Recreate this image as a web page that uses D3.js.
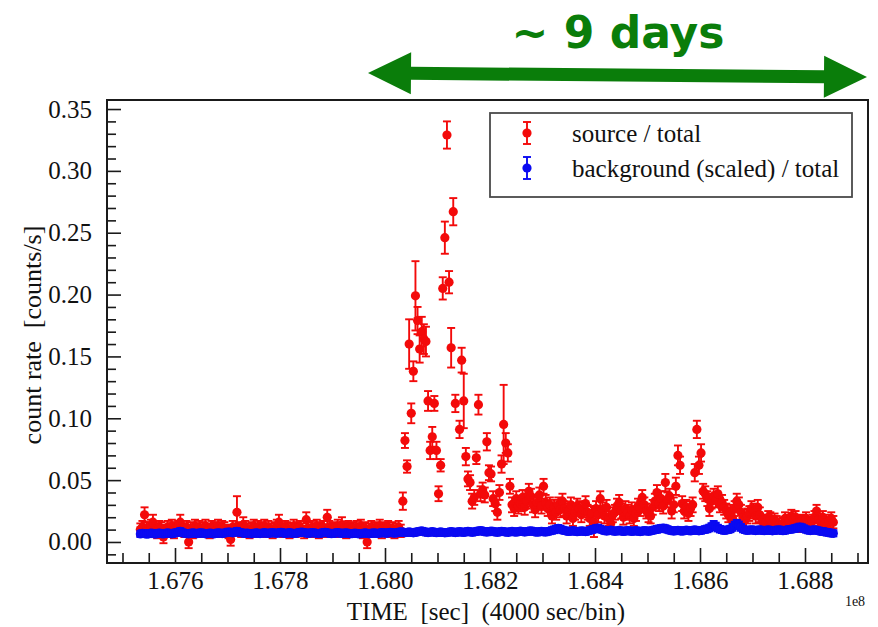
<!DOCTYPE html>
<html>
<head>
<meta charset="utf-8">
<script src="https://cdn.jsdelivr.net/npm/d3@7"></script>
<style>
  body { margin: 0; background: #fff; }
  svg { display: block; }
</style>
</head>
<body>
<svg id="chart" width="878" height="627"></svg>
<script>
// Light curve binned at 4000 s; bin i is centred at binStart + i * binSec (seconds)
const binStart = 1.67534e8;
const binSec = 4000;

// source / total rate [counts/s]; null = no data in that bin
const srcRate = [
  0.010,0.012,0.022,0.011,0.009,0.013,0.016,0.010,0.008,0.012,
  0.011,0.004,0.009,0.012,0.010,0.013,0.008,0.011,0.012,0.016,
  0.010,0.009,0.012,0.000,0.011,0.008,0.013,0.010,0.012,0.009,
  0.011,0.013,0.010,0.008,0.012,0.011,0.009,0.013,0.010,0.012,
  0.011,0.009,0.008,0.002,0.012,0.010,0.024,0.011,0.009,0.014,
  0.012,0.010,0.008,0.011,0.013,0.009,0.012,0.010,0.011,0.013,
  0.009,0.012,0.010,0.008,0.011,0.013,0.016,0.010,0.009,0.012,
  0.011,0.008,0.010,0.013,0.009,0.011,0.012,0.010,0.008,0.018,
  0.011,0.009,0.012,0.010,0.013,0.008,0.011,0.012,0.009,0.020,
  0.012,0.010,0.011,0.009,0.013,0.010,0.014,0.011,0.008,0.012,
  0.010,0.011,0.009,0.012,0.010,0.013,0.008,0.011,0.000,0.010,
  0.012,0.009,0.011,0.010,0.013,0.008,0.011,0.010,0.012,0.009,
  0.011,0.008,0.010,0.012,0.009,0.033,0.082,0.061,0.160,0.104,
  0.138,0.199,0.179,0.156,0.170,0.164,0.162,0.114,0.074,0.085,
  0.112,0.074,0.039,0.062,0.205,0.246,0.329,0.210,0.157,0.267,
  0.112,null,0.091,0.147,0.114,0.069,0.051,0.048,0.033,0.036,
  0.068,0.111,0.039,0.042,0.038,0.081,0.056,0.055,0.035,0.031,
  0.024,0.040,0.063,0.095,0.080,0.072,0.045,0.030,0.027,0.035,
  0.029,0.031,0.036,0.028,0.033,0.041,0.037,0.030,0.026,0.032,
  0.038,0.029,0.045,0.032,0.027,0.030,0.021,0.028,0.024,0.030,
  0.026,0.033,0.027,0.021,0.025,0.030,0.019,0.024,0.029,0.027,
  0.022,0.026,0.031,0.024,0.019,0.023,0.016,0.027,0.022,0.035,
  0.026,0.021,0.028,0.019,0.015,0.022,0.024,0.029,0.032,0.025,
  0.020,0.027,0.024,0.021,0.026,0.019,0.023,0.029,0.027,0.036,
  0.030,0.025,0.022,0.021,0.028,0.033,0.040,0.031,0.035,0.029,
  0.048,0.034,0.037,0.025,0.030,0.045,0.070,0.062,0.031,0.025,
  0.028,0.023,0.027,0.030,0.056,0.091,0.062,0.072,0.041,0.039,
  0.035,0.027,0.033,0.037,0.034,0.039,0.030,0.032,0.028,0.025,
  0.022,0.024,0.019,0.027,0.033,0.030,0.024,0.020,0.018,0.021,
  0.023,0.027,0.025,0.021,0.028,0.022,0.017,0.013,0.016,0.020,
  0.019,0.015,0.018,0.016,0.014,0.012,0.015,0.019,0.014,0.017,
  0.021,0.018,0.020,0.016,0.013,0.017,0.016,0.019,0.015,0.014,
  0.017,0.020,0.025,0.018,0.016,0.020,0.015,0.013,0.017,0.019,
  0.016
];

// 1-sigma error of the source rate [1e-3 counts/s]
const srcErr = [
  5,5,6,5,5,5,6,5,5,5, 5,5,5,5,5,5,5,5,5,6, 5,5,5,5,5,5,5,5,5,5,
  5,5,5,5,5,5,5,5,5,5, 5,5,5,5,5,5,13,5,5,6, 5,5,5,5,5,5,5,5,5,5,
  5,5,5,5,5,5,6,5,5,5, 5,5,5,5,5,5,5,5,5,6, 5,5,5,5,5,5,5,5,5,6,
  5,5,5,5,5,5,6,5,5,5, 5,5,5,5,5,5,5,5,5,5, 5,5,5,5,5,5,5,5,5,5,
  5,5,5,5,5,7,6,5,20,8, 8,28,11,11,12,12,12,8,7,8, 6,7,6,5,9,13,11,9,16,11,
  7,0,7,10,22,7,6,6,6,6, 5,8,6,6,6,7,6,6,6,6, 6,6,7,32,8,7,6,6,6,6,
  6,6,6,6,6,6,6,6,6,6, 6,6,6,6,6,6,6,6,6,6, 6,6,6,6,6,6,6,6,6,6,
  6,6,6,6,6,6,12,6,6,6, 6,6,6,6,6,6,6,6,6,6, 6,6,6,6,6,6,6,6,6,6,
  6,6,6,6,6,6,6,6,6,6, 7,6,6,6,6,7,8,7,6,6, 6,6,6,6,7,7,7,7,6,6,
  6,6,6,6,6,6,6,6,6,6, 6,6,6,6,6,6,6,6,6,6, 6,6,6,6,6,6,5,5,5,5,
  5,5,5,5,5,5,5,5,5,5, 5,5,5,5,5,5,5,5,5,5, 5,5,5,5,5,5,5,5,5,5,
  5
];

// background (scaled) / total rate [1e-4 counts/s]
const bkgRate = [
  65,70,68,63,66,71,69,64,67,72, 68,65,70,73,69,66,71,75,78,85,
  76,71,68,66,70,73,69,67,71,74, 70,66,68,72,69,65,70,74,71,68,
  72,76,80,78,74,79,86,80,75,71, 69,72,68,66,70,73,71,68,72,75,
  71,69,73,76,72,70,74,78,73,69, 72,75,71,68,70,74,77,80,76,72,
  69,73,76,72,70,68,71,75,78,74, 70,67,69,73,76,72,69,71,74,70,
  66,68,71,69,65,67,70,73,69,66, 70,74,71,68,72,76,73,70,74,78,
  75,71,74,78,82,79,75,78,81,77, 74,78,82,86,90,84,79,76,80,83,
  79,75,77,81,78,74,76,80,84,80, 76,79,83,80,77,81,85,82,78,81,
  85,88,92,87,83,80,84,88,85,81, 78,82,86,83,80,78,82,85,81,79,
  83,87,84,80,83,87,90,86,82,79, 83,86,82,80,84,88,93,98,105,110,
  104,97,92,88,85,88,91,87,83,86, 90,87,84,88,93,98,104,108,112,105,
  98,92,88,91,95,90,86,89,93,89, 85,88,92,89,85,88,91,87,84,88,
  92,89,86,90,94,98,102,106,109,112, 108,101,95,91,88,91,94,90,87,91,
  95,92,89,93,97,94,90,93,97,101, 106,113,124,140,128,112,103,97,93,96,
  99,105,118,135,148,136,118,104,97,93, 96,99,95,92,95,98,94,91,94,97,
  93,90,93,96,99,95,91,94,97,101, 103,106,110,114,120,116,108,100,95,92,
  95,98,94,90,87,84,81,78,75,72, 70
];

// 1-sigma error of the background rate [1e-4 counts/s]
const bkgErr = [
  25,26,25,24,25,26,25,25,24,26, 25,25,26,25,24,25,26,25,25,27,
  25,26,25,24,25,26,25,25,24,26, 25,25,26,25,24,25,26,25,25,24,
  25,26,27,25,24,26,27,25,25,24, 25,25,26,25,24,25,26,25,25,24,
  25,26,25,24,25,26,25,25,24,26, 25,25,26,25,24,25,26,25,25,24,
  25,26,25,24,25,26,25,25,24,26, 25,25,26,25,24,25,26,25,25,24,
  25,26,25,24,25,26,25,25,24,26, 25,25,26,25,24,25,26,25,25,24,
  25,26,25,24,25,26,25,25,24,26, 25,25,26,25,24,25,26,25,25,24,
  25,26,25,24,25,26,25,25,24,26, 25,25,26,25,24,25,26,25,25,24,
  25,26,25,24,25,26,25,25,24,26, 25,25,26,25,24,25,26,25,25,24,
  25,26,25,24,25,26,25,25,24,26, 25,25,26,25,24,25,26,27,27,27,
  27,26,25,24,25,26,25,25,24,26, 25,25,26,25,24,25,26,27,27,26,
  25,26,25,24,25,26,25,25,24,26, 25,25,26,25,24,25,26,25,25,24,
  25,26,25,24,25,26,27,27,27,27, 27,26,25,24,25,26,25,25,24,26,
  25,26,25,24,25,26,25,25,24,26, 27,27,28,30,28,27,26,25,25,24,
  25,26,28,29,30,29,28,26,25,24, 25,26,25,24,25,26,25,25,24,26,
  25,25,26,25,24,25,26,25,25,24, 25,26,27,28,28,27,26,25,25,24,
  25,26,25,24,25,26,25,25,24,26, 25
];

// axis tick positions [s] and their labels (offset 1e8)
const xMajorTicks = [1.676e8, 1.678e8, 1.680e8, 1.682e8, 1.684e8, 1.686e8, 1.688e8];
const xTickLabels = ["1.676", "1.678", "1.680", "1.682", "1.684", "1.686", "1.688"];
const yMajorTicks = [0.00, 0.05, 0.10, 0.15, 0.20, 0.25, 0.30, 0.35];
const yTickLabels = ["0.00", "0.05", "0.10", "0.15", "0.20", "0.25", "0.30", "0.35"];

const seriesNames = ["source / total", "background (scaled) / total"];
const seriesColors = ["#f30a0a", "#0a0af2"];

// ---------------------------------------------------------------
const svg = d3.select("#chart");
const serif = "'Liberation Serif', 'Times New Roman', serif";

const plot = { left: 107, top: 100, right: 868, bottom: 563 };

const x = d3.scaleLinear().domain([1.6747048e8, 1.6892e8]).range([plot.left, plot.right]);
const y = d3.scaleLinear().domain([-0.0170, 0.3573]).range([plot.bottom, plot.top]);

// minor ticks (every 5e4 s on x, every 0.01 on y)
const xMinorTicks = d3.range(1.6750e8, 1.68905e8, 5e4).filter(t => !xMajorTicks.some(m => Math.abs(m - t) < 1));
const yMinorTicks = d3.range(-0.01, 0.3505, 0.01).filter(v => !yMajorTicks.some(m => Math.abs(m - v) < 1e-6));

function styleAxis(g) {
  g.select(".domain").remove();
  g.selectAll(".tick line").attr("stroke", "#1a1a1a").attr("stroke-width", 1.6);
  g.selectAll(".tick text").attr("fill", "#111").attr("font-family", serif).attr("font-size", 25);
}

// x axis (ticks pointing into the frame)
svg.append("g")
  .attr("transform", `translate(0,${plot.bottom})`)
  .call(d3.axisBottom(x).tickValues(xMinorTicks).tickSizeInner(-10).tickSizeOuter(0).tickFormat(""))
  .call(styleAxis);
svg.append("g")
  .attr("transform", `translate(0,${plot.bottom})`)
  .call(d3.axisBottom(x).tickValues(xMajorTicks).tickSizeInner(-15).tickSizeOuter(0)
        .tickPadding(8).tickFormat((d, i) => xTickLabels[i]))
  .call(styleAxis);

// y axis
svg.append("g")
  .attr("transform", `translate(${plot.left},0)`)
  .call(d3.axisLeft(y).tickValues(yMinorTicks).tickSizeInner(-9).tickSizeOuter(0).tickFormat(""))
  .call(styleAxis);
svg.append("g")
  .attr("transform", `translate(${plot.left},0)`)
  .call(d3.axisLeft(y).tickValues(yMajorTicks).tickSizeInner(-14).tickSizeOuter(0)
        .tickPadding(15).tickFormat((d, i) => yTickLabels[i]))
  .call(styleAxis);

// data points with error bars
function toPoints(rates, rateUnit, errs, errUnit) {
  return rates.map((v, i) => v == null ? null : {
    t: binStart + i * binSec,
    v: v * rateUnit,
    e: errs[i] * errUnit
  }).filter(d => d);
}
const srcPoints = toPoints(srcRate, 1, srcErr, 1e-3);
const bkgPoints = toPoints(bkgRate, 1e-4, bkgErr, 1e-4);

function drawSeries(points, color) {
  const g = svg.append("g").attr("stroke", color).attr("fill", color).attr("stroke-width", 1.9);
  const cap = 4;
  const pts = g.selectAll("g.pt").data(points).join("g").attr("class", "pt");
  pts.append("line")
    .attr("x1", d => x(d.t)).attr("x2", d => x(d.t))
    .attr("y1", d => y(d.v - d.e)).attr("y2", d => y(d.v + d.e));
  pts.append("line")
    .attr("x1", d => x(d.t) - cap).attr("x2", d => x(d.t) + cap)
    .attr("y1", d => y(d.v + d.e)).attr("y2", d => y(d.v + d.e));
  pts.append("line")
    .attr("x1", d => x(d.t) - cap).attr("x2", d => x(d.t) + cap)
    .attr("y1", d => y(d.v - d.e)).attr("y2", d => y(d.v - d.e));
  pts.append("circle")
    .attr("cx", d => x(d.t)).attr("cy", d => y(d.v)).attr("r", 4.6).attr("stroke", "none");
}
drawSeries(srcPoints, seriesColors[0]);
drawSeries(bkgPoints, seriesColors[1]);

// frame
svg.append("rect")
  .attr("x", plot.left).attr("y", plot.top)
  .attr("width", plot.right - plot.left).attr("height", plot.bottom - plot.top)
  .attr("fill", "none").attr("stroke", "#1a1a1a").attr("stroke-width", 2);

// axis titles
svg.append("text")
  .attr("x", 486).attr("y", 620)
  .attr("text-anchor", "middle")
  .attr("font-family", serif).attr("font-size", 25).attr("fill", "#111")
  .attr("xml:space", "preserve")
  .text("TIME  [sec]  (4000 sec/bin)");
svg.append("text")
  .attr("transform", "translate(32,335) rotate(-90)")
  .attr("text-anchor", "middle").attr("dy", "0.35em")
  .attr("font-family", serif).attr("font-size", 26).attr("fill", "#111")
  .attr("xml:space", "preserve")
  .text("count rate  [counts/s]");
svg.append("text")
  .attr("x", 855).attr("y", 606).attr("text-anchor", "middle")
  .attr("font-family", serif).attr("font-size", 14).attr("fill", "#111")
  .text("1e8");

// legend
const legend = svg.append("g");
legend.append("rect")
  .attr("x", 490).attr("y", 113).attr("width", 362).attr("height", 84)
  .attr("fill", "#fff").attr("stroke", "#4a4a4a").attr("stroke-width", 1.8);
seriesNames.forEach((name, i) => {
  const cy = 133 + i * 35;
  const g = legend.append("g").attr("stroke", seriesColors[i]).attr("fill", seriesColors[i]).attr("stroke-width", 1.9);
  g.append("line").attr("x1", 527).attr("x2", 527).attr("y1", cy - 11).attr("y2", cy + 11);
  g.append("line").attr("x1", 523).attr("x2", 531).attr("y1", cy - 11).attr("y2", cy - 11);
  g.append("line").attr("x1", 523).attr("x2", 531).attr("y1", cy + 11).attr("y2", cy + 11);
  g.append("circle").attr("cx", 527).attr("cy", cy).attr("r", 4.6).attr("stroke", "none");
  legend.append("text")
    .attr("x", 572).attr("y", cy + 9)
    .attr("font-family", serif).attr("font-size", 25).attr("fill", "#111")
    .text(name);
});

// duration annotation: double-headed arrow with label
const green = "#0a7d0a";
const arrowLen = 499, headLen = 43, headHalf = 21, shaftHalf = 6.5;
const arrowPts = [
  [0, 0], [headLen, -headHalf], [headLen, -shaftHalf], [arrowLen - headLen, -shaftHalf],
  [arrowLen - headLen, -headHalf], [arrowLen, 0], [arrowLen - headLen, headHalf],
  [arrowLen - headLen, shaftHalf], [headLen, shaftHalf], [headLen, headHalf]
];
svg.append("path")
  .attr("transform", "translate(368,73) rotate(0.46)")
  .attr("d", d3.line()(arrowPts) + "Z")
  .attr("fill", green);
svg.append("text")
  .attr("x", 618).attr("y", 48).attr("text-anchor", "middle")
  .attr("font-family", "'DejaVu Sans', Verdana, sans-serif").attr("font-weight", "bold")
  .attr("font-size", 44).attr("fill", green)
  .text("~ 9 days");
</script>
</body>
</html>
